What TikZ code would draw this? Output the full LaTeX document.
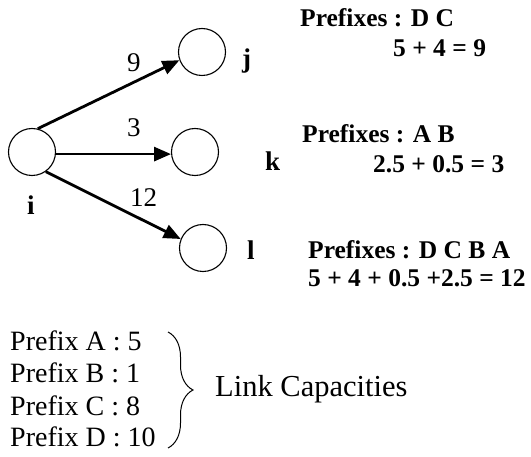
\documentclass[tikz,border=0pt]{standalone}
\usepackage{fontspec}
\setmainfont{Liberation Serif}
\usetikzlibrary{arrows.meta,decorations.pathreplacing}

\begin{document}
\begin{tikzpicture}[x=1pt, y=-1pt]
    % Define styles
    \tikzset{
        router/.style={draw, circle, line width=1.1pt, minimum size=47pt, inner sep=0pt},
        linkarrow/.style={-{Triangle[length=17pt, width=14pt]}, line width=2.8pt},
        weight/.style={anchor=base west, inner sep=0pt, font=\fontsize{27}{32}\selectfont},
        routername/.style={anchor=base west, inner sep=0pt, font=\fontsize{27}{32}\selectfont\bfseries},
        prefixnote/.style={anchor=base west, inner sep=0pt, font=\fontsize{25.5}{30}\selectfont\bfseries},
        capacity/.style={anchor=base west, inner sep=0pt, font=\fontsize{28}{32}\selectfont}
    }
    \useasboundingbox (0,0) rectangle (531,457);

    % Routers
    \node[router] (i) at (32,152) {};
    \node[router] (j) at (202,52) {};
    \node[router] (k) at (195,152) {};
    \node[router] (l) at (203,248) {};

    % Router names
    \node[routername] (iname) at (27,215) {i};
    \node[routername] (jname) at (242,68) {j};
    \node[routername] (kname) at (265,171) {k};
    \node[routername] (lname) at (247,260) {l};

    % Links
    \draw[linkarrow] (i.76) -- (j.200);
    \draw[linkarrow] (i.-5) -- (k.185);
    \draw[linkarrow] (i.-55) -- (l.158);

    % Link weights
    \node[weight] (wj) at (127,72) {9};
    \node[weight] (wk) at (127,137) {3};
    \node[weight] (wl) at (130,207) {12};

    % Prefixes per link
    \node[prefixnote] (pj) at (300,27) {Prefixes : D C};
    \node[prefixnote] (sj) at (393,57) {5 + 4 = 9};
    \node[prefixnote] (pk) at (302,143) {Prefixes : A B};
    \node[prefixnote] (sk) at (373,173) {2.5 + 0.5 = 3};
    \node[prefixnote] (pl) at (308,259) {Prefixes : D C B A};
    \node[prefixnote] (sl) at (308,287) {5 + 4 + 0.5 +2.5 = 12};

    % Link capacities
    \node[capacity] (ca) at (10,351) {Prefix A : 5};
    \node[capacity] (cb) at (10,383) {Prefix B : 1};
    \node[capacity] (cc) at (10,416) {Prefix C : 8};
    \node[capacity] (cd) at (10,447) {Prefix D : 10};
    \coordinate (bracetop) at (168,332);
    \coordinate (bracebot) at (168,448);
    \draw[line width=1pt, decorate, decoration={brace, amplitude=25pt}] (bracetop) -- (bracebot);
    \node[capacity, font=\fontsize{30.5}{34}\selectfont] (caplabel) at (215,397) {Link Capacities};

\end{tikzpicture}
\end{document}
